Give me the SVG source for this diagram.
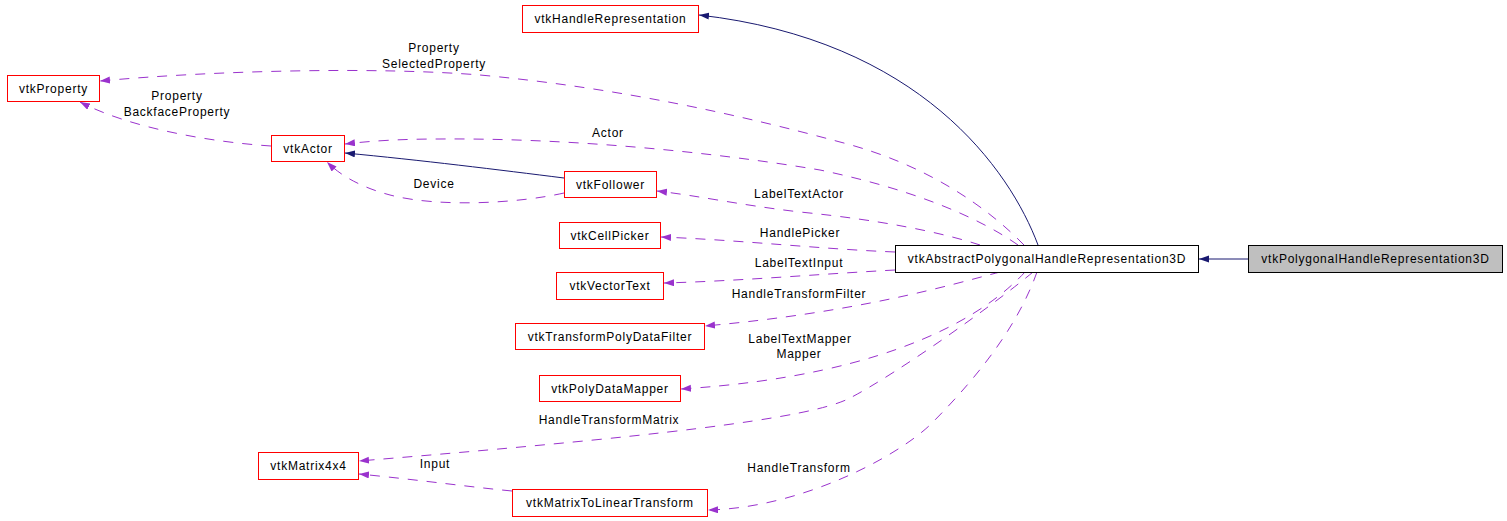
<svg xmlns="http://www.w3.org/2000/svg" width="1507" height="521" viewBox="0 0 1507 521">
<style>
text{font-family:"Liberation Sans",Arial,Helvetica,sans-serif;font-size:12px;letter-spacing:0.75px;text-anchor:middle;fill:#000}
.n rect{fill:#fff;stroke:#ff0000;stroke-width:1}
.n.b rect{stroke:#000}
.n.g rect{fill:#bfbfbf;stroke:#000}
.e path{fill:none;stroke-width:1}
.inh{stroke:#191970}
.use{stroke:#9a32cd;stroke-dasharray:10,9}
</style>
<defs>
<marker id="an" markerUnits="userSpaceOnUse" markerWidth="11" markerHeight="8" refX="10" refY="3.5" orient="auto"><path d="M0,0 L10,3.5 L0,7 z" fill="#191970" stroke="none"/></marker>
<marker id="ap" markerUnits="userSpaceOnUse" markerWidth="11" markerHeight="8" refX="10" refY="3.5" orient="auto"><path d="M0,0 L10,3.5 L0,7 z" fill="#9a32cd" stroke="none"/></marker>
</defs>
<g id="edges" class="e">
<path class="inh" marker-end="url(#an)" d="M1248,259 L1199,259"/>
<path class="inh" marker-end="url(#an)" d="M1038,245 C1010,170 920,40 699,15"/>
<path class="use" marker-end="url(#ap)" d="M1024,245 C990,210 930,165 840,142 C740,115 620,88 480,75 C380,67 220,70 100,81"/>
<path class="use" marker-end="url(#ap)" d="M271,146 C210,142 130,128 80,102"/>
<path class="use" marker-end="url(#ap)" d="M1018,245 C985,222 925,192 820,170 C700,150 560,138 440,139 C400,139 370,141 345,144"/>
<path class="inh" marker-end="url(#an)" d="M564,178 C500,170 420,160 345,153"/>
<path class="use" marker-end="url(#ap)" d="M564,193 C520,203 440,208 390,195 C360,187 340,175 327,162"/>
<path class="use" marker-end="url(#ap)" d="M980,245 C940,232 880,220 800,212 C740,205 700,196 657,191"/>
<path class="use" marker-end="url(#ap)" d="M895,252 C820,249 740,240 661,237"/>
<path class="use" marker-end="url(#ap)" d="M895,270 C820,274 740,281 664,283"/>
<path class="use" marker-end="url(#ap)" d="M1000,272 C950,285 860,312 705,326"/>
<path class="use" marker-end="url(#ap)" d="M1025,272 C990,310 900,375 681,389"/>
<path class="use" marker-end="url(#ap)" d="M1033,272 C1000,300 900,372 850,398 C810,419 650,437 359,461"/>
<path class="use" marker-end="url(#ap)" d="M1037,272 C1020,320 985,370 930,425 C895,458 800,508 708,510"/>
<path class="use" marker-end="url(#ap)" d="M512,491 C470,487 420,480 359,474"/>
<text x="434" y="52">Property</text>
<text x="434" y="68">SelectedProperty</text>
<text x="177" y="100">Property</text>
<text x="177" y="116">BackfaceProperty</text>
<text x="608" y="137">Actor</text>
<text x="434" y="188">Device</text>
<text x="799" y="198">LabelTextActor</text>
<text x="800" y="237">HandlePicker</text>
<text x="799" y="267">LabelTextInput</text>
<text x="799" y="298">HandleTransformFilter</text>
<text x="800" y="343">LabelTextMapper</text>
<text x="799" y="358">Mapper</text>
<text x="609" y="424">HandleTransformMatrix</text>
<text x="435" y="468">Input</text>
<text x="799" y="472">HandleTransform</text>
</g>
<g id="vtkPolygonalHandleRepresentation3D" class="n g"><rect x="1248.5" y="245.5" width="254" height="27"/><text x="1375.5" y="263">vtkPolygonalHandleRepresentation3D</text></g>
<g id="vtkAbstractPolygonalHandleRepresentation3D" class="n b"><rect x="895.5" y="245.5" width="303" height="27"/><text x="1047" y="263">vtkAbstractPolygonalHandleRepresentation3D</text></g>
<g id="vtkHandleRepresentation" class="n"><rect x="522.5" y="5.5" width="176" height="27"/><text x="610.5" y="23">vtkHandleRepresentation</text></g>
<g id="vtkProperty" class="n"><rect x="7.5" y="75.5" width="92" height="26"/><text x="53.5" y="92.5">vtkProperty</text></g>
<g id="vtkActor" class="n"><rect x="271.5" y="135.5" width="73" height="26"/><text x="308" y="152.5">vtkActor</text></g>
<g id="vtkFollower" class="n"><rect x="564.5" y="171.5" width="92" height="26"/><text x="610.5" y="189">vtkFollower</text></g>
<g id="vtkCellPicker" class="n"><rect x="559.5" y="222.5" width="101" height="26"/><text x="610" y="239.5">vtkCellPicker</text></g>
<g id="vtkVectorText" class="n"><rect x="556.5" y="272.5" width="107" height="27"/><text x="610" y="290">vtkVectorText</text></g>
<g id="vtkTransformPolyDataFilter" class="n"><rect x="515.5" y="323.5" width="189" height="26"/><text x="610" y="340.5">vtkTransformPolyDataFilter</text></g>
<g id="vtkPolyDataMapper" class="n"><rect x="539.5" y="375.5" width="141" height="26"/><text x="610" y="392.5">vtkPolyDataMapper</text></g>
<g id="vtkMatrix4x4" class="n"><rect x="258.5" y="452.5" width="100" height="27"/><text x="308.5" y="470">vtkMatrix4x4</text></g>
<g id="vtkMatrixToLinearTransform" class="n"><rect x="512.5" y="489.5" width="195" height="27"/><text x="610" y="507">vtkMatrixToLinearTransform</text></g>
</svg>
